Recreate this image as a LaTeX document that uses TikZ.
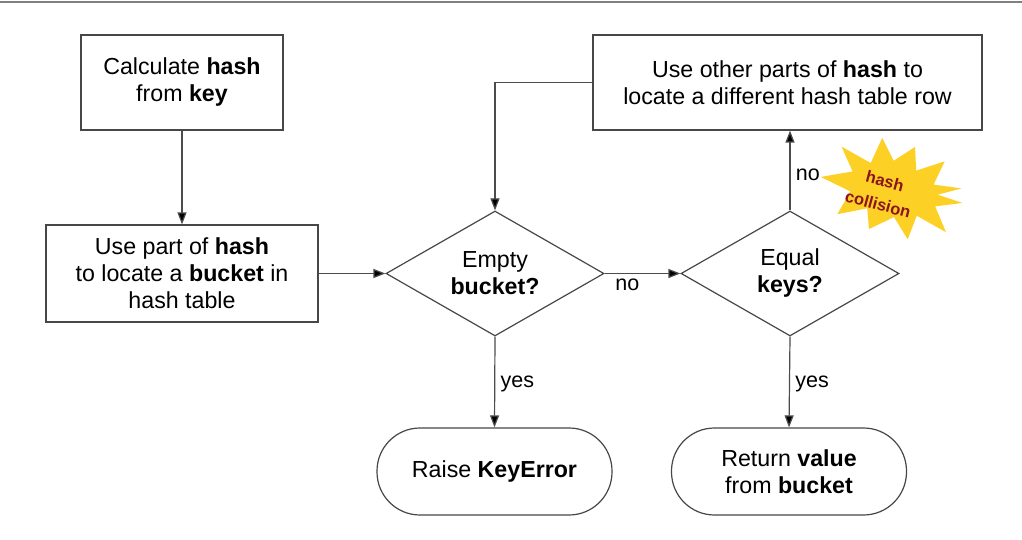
\documentclass[tikz,border=0pt]{standalone}
\usepackage{fontspec}
\setmainfont{Liberation Sans}
\usetikzlibrary{shapes.geometric,arrows.meta}
\definecolor{burstyellow}{RGB}{252,208,36}
\definecolor{burstred}{RGB}{140,20,30}
\begin{document}
\begin{tikzpicture}[x=1pt,y=-1pt,
  every node/.style={font=\fontsize{23.2}{27}\selectfont, align=center, text=black},
  procbox/.style={draw=black!72, line width=1.2pt, rectangle, inner sep=0pt},
  decision/.style={draw=black!72, line width=1.2pt, diamond, inner sep=0pt, aspect=1.744,
                   minimum width=218pt, minimum height=125pt},
  terminal/.style={draw=black!72, line width=1.2pt, rectangle, rounded corners=43pt,
                   minimum width=235pt, minimum height=87pt, inner sep=0pt},
  flow/.style={draw=black!70, line width=1.2pt, -{Triangle[length=12pt,width=9pt,fill=black]}},
  lbl/.style={font=\fontsize{21.5}{25}\selectfont},
  burstlbl/.style={font=\fontsize{16.5}{18}\bfseries, text=burstred, rotate=-15, inner sep=0pt}
]
\useasboundingbox (0,0) rectangle (1022,540);
% top rule
\draw[line width=2.5pt, black!50] (0,2) -- (1022,2);

% process boxes
\node[procbox, minimum width=202pt, minimum height=95pt] (calc) at (182,82.5)
  {Calculate \textbf{hash}\\ from \textbf{key}};
\node[procbox, minimum width=272pt, minimum height=97pt] (locate) at (182,273.5)
  {Use part of \textbf{hash}\\ to locate a \textbf{bucket} in\\ hash table};
\node[procbox, minimum width=389pt, minimum height=95pt] (other) at (787.5,82.5)
  {Use other parts of \textbf{hash} to\\ locate a different hash table row};

% decisions
\node[decision] (empty) at (495,273.5) {Empty\\ \textbf{bucket?}};
\node[decision] (equal) at (790,273.5) {Equal\\ \textbf{keys?}};

% terminals
\node[terminal] (raise) at (494.5,471.5) {Raise \textbf{KeyError}};
\node[terminal] (ret) at (789,471.5) {Return \textbf{value}\\ from \textbf{bucket}};

% connectors
\draw[flow] (calc.south) -- (locate.north);
\draw[flow] (locate.east) -- (empty.west);
\draw[flow] (empty.east) -- node[lbl, below=1pt, pos=0.3] {no} (equal.west);
\draw[flow] (equal.north) -- node[lbl, right=2pt, pos=0.45] {no} (equal.north |- other.south);
\draw[flow] (other.west) -| (empty.north);
\draw[flow] (empty.south) -- node[lbl, right=2pt, pos=0.52] {yes} (raise.north);
\draw[flow] (equal.south) -- node[lbl, right=2pt, pos=0.52] {yes} (ret.north);

% collision starburst
\coordinate (burst) at (892,188);
\fill[burstyellow, rotate around={-12:(burst)}]
  plot[smooth cycle, tension=0] coordinates {
    (892+72,188) (892+46,188+9) (892+62,188+32) (892+30,188+22) (892+26,188+47)
    (892+8,188+28) (892-14,188+45) (892-20,188+25) (892-48,188+37) (892-40,188+12)
    (892-72,188+4) (892-42,188-8) (892-58,188-30) (892-26,188-20) (892-20,188-47)
    (892-4,188-27) (892+14,188-45) (892+20,188-22) (892+46,188-37) (892+40,188-12)
    (892+68,188-14) (892+46,188-3)};
\node[burstlbl] (hashword) at (885,181) {hash};
\node[burstlbl] (collword) at (878,204) {collision};
\end{tikzpicture}
\end{document}
